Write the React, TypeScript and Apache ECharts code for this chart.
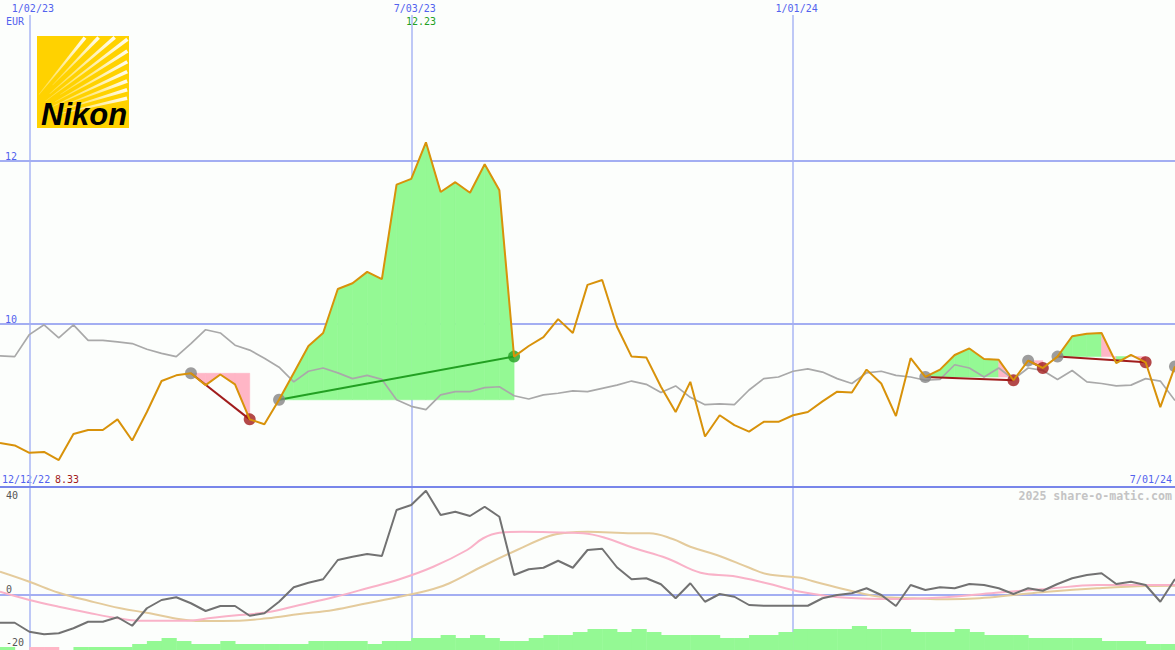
import React, { useEffect, useRef } from 'react';
import * as echarts from 'echarts';

// ---------- data ----------
const dateTickIdx = [2, 28, 54];
const dateTickLabels = ['1/02/23', '7/03/23', '1/01/24'];
const priceGridLevels = [10, 12];
const oscTickLabels = [-20, 0, 40];

// weekly share price (EUR), index 0 = 12/19/22 ... 80 = 7/01/24
const price = [
  8.54, 8.51, 8.42, 8.43, 8.33, 8.65, 8.70, 8.70, 8.83, 8.57,
  8.92, 9.30, 9.37, 9.395, 9.25, 9.38, 9.26, 8.83, 8.77, 9.07,
  9.40, 9.73, 9.89, 10.43, 10.50, 10.64, 10.55, 11.71, 11.78, 12.23,
  11.62, 11.74, 11.61, 11.96, 11.64, 9.60, 9.73, 9.84, 10.06, 9.89,
  10.48, 10.54, 9.97, 9.60, 9.59, 9.23, 8.92, 9.29, 8.62, 8.88,
  8.76, 8.68, 8.80, 8.80, 8.88, 8.92, 9.05, 9.17, 9.16, 9.44,
  9.27, 8.87, 9.58, 9.35, 9.44, 9.62, 9.70, 9.57, 9.56, 9.31,
  9.55, 9.46, 9.60, 9.85, 9.88, 9.89, 9.52, 9.62, 9.53, 8.98,
  9.48,
];

// comparison index (rescaled)
const compare = [
  9.61, 9.60, 9.87, 9.99, 9.83, 9.99, 9.80, 9.80, 9.78, 9.76,
  9.69, 9.64, 9.60, 9.76, 9.93, 9.89, 9.74, 9.68, 9.58, 9.47,
  9.29, 9.42, 9.46, 9.40, 9.33, 9.37, 9.32, 9.07, 8.99, 8.95,
  9.13, 9.17, 9.17, 9.22, 9.23, 9.12, 9.08, 9.13, 9.15, 9.18,
  9.17, 9.21, 9.25, 9.30, 9.26, 9.16, 9.24, 9.10, 9.01, 9.02,
  9.01, 9.19, 9.33, 9.35, 9.42, 9.45, 9.41, 9.33, 9.27, 9.40,
  9.42, 9.37, 9.35, 9.31, 9.32, 9.50, 9.46, 9.35, 9.46, 9.32,
  9.46, 9.43, 9.32, 9.43, 9.29, 9.27, 9.24, 9.25, 9.33, 9.30,
  9.06,
];

// signals: start / end week index
const signalStarts = [13, 19, 63, 70, 72];
const signalEnds = [17, 35, 69, 71, 78];
const openSignals = [80];

// lower panel oscillator
const osc = [
  -11.1, -11.1, -14.7, -15.7, -15.3, -13.3, -10.7, -10.7, -8.9, -12.3,
  -5.3, -2.0, -0.9, -3.3, -6.4, -4.4, -4.4, -8.3, -7.3, -2.7,
  3.1, 4.9, 6.3, 14.0, 15.3, 16.4, 15.6, 34.0, 36.0, 41.7,
  32.0, 33.3, 31.6, 35.3, 31.3, 8.0, 10.3, 10.9, 13.7, 10.9,
  18.0, 18.5, 11.1, 6.3, 6.7, 4.3, -1.3, 4.7, -2.7, 0.4,
  -0.7, -4.0, -4.3, -4.3, -4.3, -4.3, -1.3, 0.0, 0.7, 2.7,
  0.0, -4.4, 4.0, 2.0, 3.1, 2.7, 4.4, 4.0, 2.7, 0.4,
  2.7, 1.7, 4.4, 6.7, 8.0, 8.7, 4.4, 5.3, 4.0, -2.7,
  6.4,
];

// smooth averages read at [week index, value]
const pinkAvg = [
  [0, 1.3], [2, -2.0], [4, -4.7], [6, -7.1], [8, -9.3], [9.5, -10.3], [12.5, -10.3],
  [14.5, -9.1], [16.3, -8.0], [18.2, -6.9], [20.4, -4.0], [22.7, -0.9], [25, 2.7],
  [27.2, 6.3], [29.5, 11.3], [31.8, 18.0], [32.9, 22.7], [34, 24.9], [35.6, 25.3],
  [37.4, 25.1], [39.7, 24.7], [41.3, 22.7], [43.1, 18.9], [45.4, 14.7], [47.7, 8.9],
  [49.9, 7.6], [52.2, 4.7], [54.5, 1.3], [57.6, -1.1], [61, -1.6], [64.4, -0.9],
  [67.8, 0.9], [71.2, 2.4], [74.7, 4.0], [80, 4.0],
];
const tanAvg = [
  [0, 9.3], [2, 5.3], [4, 0.9], [6.1, -2.4], [8.2, -5.3], [10.2, -7.3], [12.3, -9.7],
  [13.6, -10.4], [16.3, -10.3], [18.2, -9.3], [20.4, -7.6], [22.7, -6.0], [25, -3.3],
  [27.2, -0.7], [29.5, 2.4], [30.6, 4.7], [32.9, 11.6], [35.2, 18.0], [37.4, 23.6],
  [38.6, 24.9], [40, 25.3], [43.1, 24.7], [44.2, 24.7], [45.8, 22.4], [47, 19.3],
  [48.8, 16.0], [51.1, 10.7], [52.2, 8.4], [54.5, 6.9], [55.3, 5.6], [57.7, 2.0],
  [59.9, -0.7], [62.2, -1.3], [64.5, -1.7], [66.7, -1.3], [69, 0], [71.3, 1.3],
  [74.7, 2.7], [78.1, 3.6], [80, 3.7],
];

// histogram levels per week (negative = pink)
const histLevels = [
  1, 0, -1, -1, 0, 1, 1, 1, 1, 2,
  3, 4, 3, 2, 2, 3, 2, 2, 2, 2,
  2, 3, 3, 3, 3, 2, 3, 3, 4, 4,
  5, 4, 5, 4, 3, 3, 4, 5, 5, 6,
  7, 7, 6, 7, 6, 5, 5, 5, 5, 4,
  4, 5, 5, 6, 7, 7, 7, 7, 8, 7,
  7, 7, 6, 6, 6, 7, 6, 5, 5, 5,
  4, 4, 4, 4, 4, 3, 3, 3, 2, 2,
];

// ---------- styles ----------
const MONO = "'DejaVu Sans Mono', monospace";
const BLUE = '#5262ee';
const GRID_H = '#a3aef2';
const GRID_V = '#aab6f4';
const SEP = '#7886ea';
const FILL_GREEN = '#94f994';
const FILL_PINK = '#ffb6c6';
const ORANGE = '#d8920a';
const RED = '#a11c1c';
const GREEN = '#22a022';

const streakAngles = [13, 17, 21, 25, 29, 33, 37, 41, 46, 51];

function makeLogo() {
  const ox = 37, oy = 36, S = 92;
  const fx = -22, fy = 88;
  const streaks = streakAngles.map((deg, k) => {
    const a = (deg * Math.PI) / 180;
    const c = Math.cos(a), s = Math.sin(a);
    const tEnd = Math.min((S - fx) / c, fy / s) - 2;
    const t0 = 38 + (k % 3) * 8;
    const nx = s, ny = c;
    const p0 = [fx + c * t0, fy - s * t0];
    const p1 = [fx + c * tEnd, fy - s * tEnd];
    const w0 = 0.3, w1 = 1.8;
    return {
      type: 'polygon',
      silent: true,
      shape: {
        points: [
          [ox + p0[0] + nx * w0, oy + p0[1] + ny * w0],
          [ox + p1[0] + nx * w1, oy + p1[1] + ny * w1],
          [ox + p1[0] - nx * w1, oy + p1[1] - ny * w1],
          [ox + p0[0] - nx * w0, oy + p0[1] - ny * w0],
        ],
      },
      style: {
        fill: new echarts.graphic.LinearGradient(0, 1, 1, 0, [
          { offset: 0, color: 'rgba(255,255,255,0.25)' },
          { offset: 1, color: 'rgba(255,255,255,0.95)' },
        ]),
      },
    };
  });
  return [
    { type: 'rect', silent: true, shape: { x: ox, y: oy, width: S, height: S }, style: { fill: '#ffd200' } },
    ...streaks,
    {
      type: 'text', silent: true, x: 41, y: 114,
      style: {
        text: 'Nikon', fill: '#000000', fontFamily: "'Liberation Sans', Arial, sans-serif",
        fontSize: 31, fontWeight: 'bold', fontStyle: 'italic', align: 'left', verticalAlign: 'middle',
      },
    },
  ];
}

function buildOption() {
  const idx = price.map((_, i) => i);
  const priceData = idx.map((i) => [i, price[i]]);
  const compareData = idx.map((i) => [i, compare[i]]);
  const oscData = idx.map((i) => [i, osc[i]]);

  const fillData: number[][] = [];
  const signalLines: any[] = [];
  const markers: any[] = [];
  signalStarts.forEach((s, k) => {
    const e = signalEnds[k];
    const base = price[s];
    for (let i = s; i < e; i++) {
      fillData.push([i, price[i], price[i + 1], base, price[i + 1] >= base ? 1 : -1]);
    }
    const win = price[e] > base;
    signalLines.push({ coords: [[s, base], [e, price[e]]], lineStyle: { color: win ? GREEN : RED } });
    markers.push({ value: [s, base], itemStyle: { color: '#858585' } });
    markers.push({ value: [e, price[e]], itemStyle: { color: win ? GREEN : RED } });
  });
  openSignals.forEach((s) => markers.push({ value: [s, price[s]], itemStyle: { color: '#858585' } }));

  const histData = histLevels.map((v, i) => [i, Math.abs(v), v < 0 ? -1 : 1]);

  const maxP = Math.max(...price);
  const minP = Math.min(...price);

  const txt = (x: number, y: number, text: string, fill: string, align = 'left', extra: any = {}) => ({
    type: 'text', silent: true, x, y,
    style: { text, fill, fontFamily: MONO, fontSize: 10, align, verticalAlign: 'middle', ...extra },
  });

  return {
    animation: false,
    backgroundColor: '#fcfefc',
    grid: [
      { left: 0, right: 0, top: 15, height: 472 },
      { left: 0, right: 0, top: 487, height: 158 },
      { left: 0, right: 0, top: 487, height: 163 },
    ],
    xAxis: [
      {
        gridIndex: 0, type: 'value', min: 0, max: 80, position: 'top',
        axisLine: { show: false }, axisTick: { show: false }, splitLine: { show: false },
        axisLabel: {
          customValues: dateTickIdx,
          formatter: (v: number) => {
            const k = dateTickIdx.indexOf(v);
            return k >= 0 ? dateTickLabels[k] : '';
          },
          color: BLUE, fontFamily: MONO, fontSize: 10, margin: 2, padding: [0, 0, 0, 7],
        },
      },
      { gridIndex: 1, type: 'value', min: 0, max: 80, show: false },
      {
        gridIndex: 2, type: 'value', min: 0, max: 80, position: 'top', z: 10,
        axisLine: { show: true, onZero: false, lineStyle: { color: SEP, width: 2 } },
        axisTick: { show: false }, axisLabel: { show: false }, splitLine: { show: false },
      },
    ],
    yAxis: [
      {
        gridIndex: 0, type: 'value', min: 8, max: 8 + 472 / 81.5, interval: 2,
        axisLine: { show: false }, axisTick: { show: false }, splitLine: { show: false },
        axisLabel: {
          inside: true, margin: 5, verticalAlign: 'bottom', color: BLUE, fontFamily: MONO, fontSize: 10,
          formatter: (v: number) => (priceGridLevels.indexOf(v) >= 0 ? String(v) : ''),
        },
      },
      {
        gridIndex: 1, type: 'value', min: -20, max: 43.2, interval: 20,
        axisLine: { show: false }, axisTick: { show: false }, splitLine: { show: false },
        axisLabel: {
          inside: true, margin: 6, verticalAlign: 'middle', color: '#555555', fontFamily: MONO, fontSize: 10,
          formatter: (v: number) => {
            if (oscTickLabels.indexOf(v) < 0) return '';
            if (v === 0) return '{z|0}';
            if (v < 0) return '{n|' + v + '}';
            return String(v);
          },
          rich: {
            z: { padding: [0, 0, 12, 0], color: '#555555', fontFamily: MONO, fontSize: 10 },
            n: { padding: [0, 0, 6, 0], color: '#555555', fontFamily: MONO, fontSize: 10 },
          },
        },
      },
      { gridIndex: 2, type: 'value', min: 0, max: 163 / 3, show: false },
    ],
    series: [
      {
        type: 'custom', name: 'fills', xAxisIndex: 0, yAxisIndex: 0, z: 1, silent: true,
        data: fillData,
        renderItem: (params: any, api: any) => {
          const i = api.value(0);
          const base = api.value(3);
          const a = api.coord([i, base]);
          const b = api.coord([i, api.value(1)]);
          const c = api.coord([i + 1, api.value(2)]);
          const d = api.coord([i + 1, base]);
          const col = api.value(4) > 0 ? FILL_GREEN : FILL_PINK;
          return { type: 'polygon', shape: { points: [a, b, c, d] }, style: { fill: col, stroke: col, lineWidth: 0.6 } };
        },
      },
      {
        type: 'line', name: 'compare', xAxisIndex: 0, yAxisIndex: 0, z: 2, silent: true,
        data: compareData, symbol: 'none',
        lineStyle: { color: '#a9a9a9', width: 1.7 },
        markLine: {
          silent: true, z: 0, symbol: ['none', 'none'], label: { show: false },
          data: [
            ...dateTickIdx.map((x) => ({ xAxis: x, lineStyle: { color: GRID_V, width: 1.5, type: 'solid' } })),
            ...priceGridLevels.map((y) => ({ yAxis: y, lineStyle: { color: GRID_H, width: 2, type: 'solid' } })),
          ],
        },
      },
      {
        type: 'lines', name: 'signals', coordinateSystem: 'cartesian2d', xAxisIndex: 0, yAxisIndex: 0, z: 3, silent: true,
        lineStyle: { width: 2, opacity: 1 },
        data: signalLines,
      },
      {
        type: 'scatter', name: 'markers', xAxisIndex: 0, yAxisIndex: 0, z: 4, silent: true,
        symbolSize: 12, data: markers,
      },
      {
        type: 'line', name: 'price', xAxisIndex: 0, yAxisIndex: 0, z: 5, silent: true,
        data: priceData, symbol: 'none',
        lineStyle: { color: ORANGE, width: 2 },
      },
      {
        type: 'custom', name: 'hist', xAxisIndex: 2, yAxisIndex: 2, z: 1, silent: true,
        data: histData,
        renderItem: (params: any, api: any) => {
          const i = api.value(0);
          const p0 = api.coord([i, api.value(1)]);
          const p1 = api.coord([i + 1, 0]);
          const col = api.value(2) < 0 ? FILL_PINK : FILL_GREEN;
          return { type: 'rect', shape: { x: p0[0], y: p0[1], width: p1[0] - p0[0] + 0.5, height: p1[1] - p0[1] }, style: { fill: col } };
        },
      },
      {
        type: 'line', name: 'vgrid', xAxisIndex: 2, yAxisIndex: 2, z: 0, silent: true,
        data: [[0, 0]], symbol: 'none', lineStyle: { opacity: 0 },
        markLine: {
          silent: true, z: 0, symbol: ['none', 'none'], label: { show: false },
          data: dateTickIdx.map((x) => ({ xAxis: x, lineStyle: { color: GRID_V, width: 1.5, type: 'solid' } })),
        },
      },
      {
        type: 'line', name: 'tan', xAxisIndex: 1, yAxisIndex: 1, z: 2, silent: true,
        data: tanAvg, symbol: 'none', smooth: 0.4,
        lineStyle: { color: '#e4cb9c', width: 2 },
      },
      {
        type: 'line', name: 'pink', xAxisIndex: 1, yAxisIndex: 1, z: 3, silent: true,
        data: pinkAvg, symbol: 'none', smooth: 0.4,
        lineStyle: { color: '#f9b2c8', width: 2 },
      },
      {
        type: 'line', name: 'osc', xAxisIndex: 1, yAxisIndex: 1, z: 4, silent: true,
        data: oscData, symbol: 'none',
        lineStyle: { color: '#727272', width: 2 },
        markLine: {
          silent: true, z: 1, symbol: ['none', 'none'], label: { show: false },
          data: [{ yAxis: 0, lineStyle: { color: GRID_H, width: 2, type: 'solid' } }],
        },
      },
    ],
    graphic: [
      ...makeLogo(),
      txt(6, 21, 'EUR', BLUE),
      txt(436, 21, maxP.toFixed(2), GREEN, 'right'),
      txt(2, 479, '12/12/22', BLUE),
      txt(55, 479, minP.toFixed(2), RED),
      txt(1172, 479, '7/01/24', BLUE, 'right'),
      txt(1172, 496, '2025 share-o-matic.com', '#c4c4c4', 'right', { fontSize: 11.6, fontWeight: 'bold' }),
    ],
  };
}

export default function App() {
  const ref = useRef<HTMLDivElement>(null);
  useEffect(() => {
    if (!ref.current) return;
    const chart = echarts.init(ref.current, null, { renderer: 'svg' });
    chart.setOption(buildOption() as any);
    return () => chart.dispose();
  }, []);
  return <div ref={ref} style={{ position: 'fixed', left: 0, top: 0, width: 1175, height: 650 }} />;
}
